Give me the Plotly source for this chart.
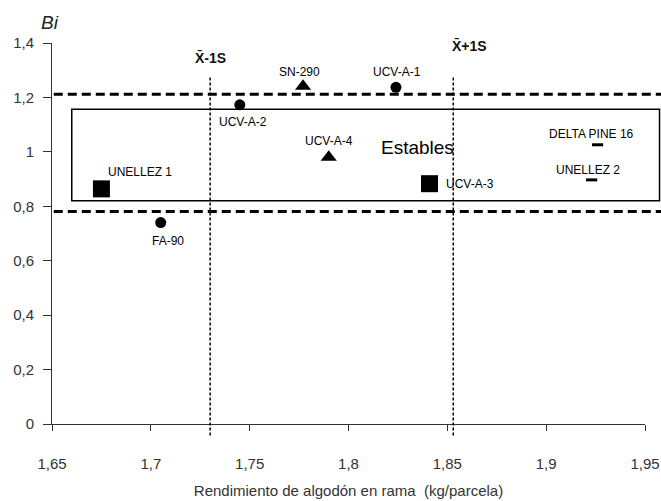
import plotly.graph_objects as go

# ---------------- data ----------------
genotypes = ["UNELLEZ 1", "FA-90", "UCV-A-2", "SN-290", "UCV-A-1",
             "UCV-A-4", "UCV-A-3", "DELTA PINE 16", "UNELLEZ 2"]
rendimiento = [1.675, 1.705, 1.745, 1.777, 1.824, 1.790, 1.841, 1.926, 1.923]
bi_values = [0.864, 0.740, 1.173, 1.241, 1.237, 0.980, 0.883, 1.026, 0.897]
symbols = ["square", "circle", "circle", "triangle-up", "circle",
           "triangle-up", "square", "line-ew", "line-ew"]

x_tick_vals = [1.65, 1.70, 1.75, 1.80, 1.85, 1.90, 1.95]
x_tick_text = ["1,65", "1,7", "1,75", "1,8", "1,85", "1,9", "1,95"]
y_tick_vals = [0, 0.2, 0.4, 0.6, 0.8, 1.0, 1.2, 1.4]
y_tick_text = ["0", "0,2", "0,4", "0,6", "0,8", "1", "1,2", "1,4"]

mean_minus_s = 1.730
mean_plus_s = 1.853
bi_upper = 1.212
bi_lower = 0.781
stable_box_x0 = 1.660
stable_box_y = [0.820, 1.157]

X_RANGE = [1.65, 1.95]
Y_RANGE = [0, 1.4]


def xd(v):
    return (v - X_RANGE[0]) / (X_RANGE[1] - X_RANGE[0])


def yd(v):
    return (v - Y_RANGE[0]) / (Y_RANGE[1] - Y_RANGE[0])


# label offsets (pixels) relative to each point
label_shift = {
    "UNELLEZ 1": (39, 17, "center"),
    "FA-90": (7, -18, "center"),
    "UCV-A-2": (3, -17, "center"),
    "SN-290": (-4, 14, "center"),
    "UCV-A-1": (1, 15, "center"),
    "UCV-A-4": (0, 16, "center"),
    "UCV-A-3": (14, 0, "left"),
    "DELTA PINE 16": (-6, 11, "center"),
    "UNELLEZ 2": (-4, 10, "center"),
}
sizes = {"square": 17, "circle": 11, "triangle-up": 14, "line-ew": 8}

FONT = "Liberation Sans, Arial, sans-serif"

fig = go.Figure()

for g, xv, yv, s in zip(genotypes, rendimiento, bi_values, symbols):
    fig.add_trace(go.Scatter(
        x=[xv], y=[yv], mode="markers", name=g, showlegend=False,
        cliponaxis=False,
        marker=dict(symbol=s, size=sizes[s], color="black",
                    line=dict(color="black", width=3 if s == "line-ew" else 0)),
    ))

annotations = []
for g, xv, yv in zip(genotypes, rendimiento, bi_values):
    dx, dy, anc = label_shift[g]
    annotations.append(dict(
        x=xv, y=yv, xref="x", yref="y", text=g, showarrow=False,
        xshift=dx, yshift=dy, xanchor=anc, yanchor="middle",
        font=dict(family=FONT, size=12, color="black"),
    ))

annotations += [
    dict(x=mean_minus_s, y=1.346, xref="x", yref="y", text="<b>X\u0304-1S</b>",
         showarrow=False, xanchor="center", yanchor="middle",
         font=dict(family=FONT, size=14, color="#111")),
    dict(x=mean_plus_s, y=1.39, xref="x", yref="y", text="<b>X\u0304+1S</b>",
         showarrow=False, xanchor="left", xshift=-3, yanchor="middle",
         font=dict(family=FONT, size=14, color="#111")),
    dict(x=1.8347, y=1.015, xref="x", yref="y", text="Estables",
         showarrow=False, xanchor="center", yanchor="middle",
         font=dict(family=FONT, size=19, color="black")),
    dict(x=-0.003, y=1.053, xref="paper", yref="paper", text="<i>Bi</i>",
         showarrow=False, xanchor="center", yanchor="middle",
         font=dict(family=FONT, size=19, color="#222")),
]

shapes = [
    # horizontal thick dashed limits
    dict(type="line", xref="x domain", yref="y domain",
         x0=0.003, x1=1.03, y0=yd(bi_upper), y1=yd(bi_upper),
         line=dict(color="black", width=3, dash="9px,5px")),
    dict(type="line", xref="x domain", yref="y domain",
         x0=0.003, x1=1.03, y0=yd(bi_lower), y1=yd(bi_lower),
         line=dict(color="black", width=3, dash="9px,5px")),
    # vertical mean +/- s lines
    dict(type="line", xref="x domain", yref="y domain",
         x0=xd(mean_minus_s), x1=xd(mean_minus_s), y0=-0.03, y1=yd(1.276),
         line=dict(color="black", width=1.5, dash="3px,2px")),
    dict(type="line", xref="x domain", yref="y domain",
         x0=xd(mean_plus_s), x1=xd(mean_plus_s), y0=-0.03, y1=yd(1.276),
         line=dict(color="black", width=1.5, dash="3px,2px")),
    # stable box
    dict(type="rect", xref="x domain", yref="y domain",
         x0=xd(stable_box_x0), x1=1.0245,
         y0=yd(stable_box_y[0]), y1=yd(stable_box_y[1]),
         line=dict(color="black", width=1.5), fillcolor="rgba(0,0,0,0)"),
]

fig.update_layout(
    width=661, height=501,
    margin=dict(l=52, r=16, t=43, b=77, autoexpand=False),
    plot_bgcolor="white", paper_bgcolor="white",
    showlegend=False,
    hovermode=False,
    annotations=annotations,
    shapes=shapes,
    xaxis=dict(
        range=X_RANGE, tickvals=x_tick_vals, ticktext=x_tick_text,
        automargin=False,
        showgrid=False, zeroline=False, showline=True, linecolor="#333",
        linewidth=1, ticks="outside", ticklen=6, tickcolor="#333",
        ticklabelstandoff=20,
        tickfont=dict(family=FONT, size=15, color="#333"),
        title=dict(text="Rendimiento de algodón en rama\u00a0\u00a0(kg/parcela)",
                   font=dict(family=FONT, size=15, color="#333"), standoff=14),
    ),
    yaxis=dict(
        range=Y_RANGE, tickvals=y_tick_vals, ticktext=y_tick_text,
        automargin=False,
        showgrid=False, zeroline=False, showline=True, linecolor="#333",
        linewidth=1, ticks="outside", ticklen=8, tickcolor="#333",
        ticklabelstandoff=6,
        tickfont=dict(family=FONT, size=15, color="#333"),
    ),
)

fig.write_html(
    "out.html",
    config={"displayModeBar": False, "staticPlot": True},
    post_script="document.body.style.margin='0';document.body.style.overflow='hidden';",
)
